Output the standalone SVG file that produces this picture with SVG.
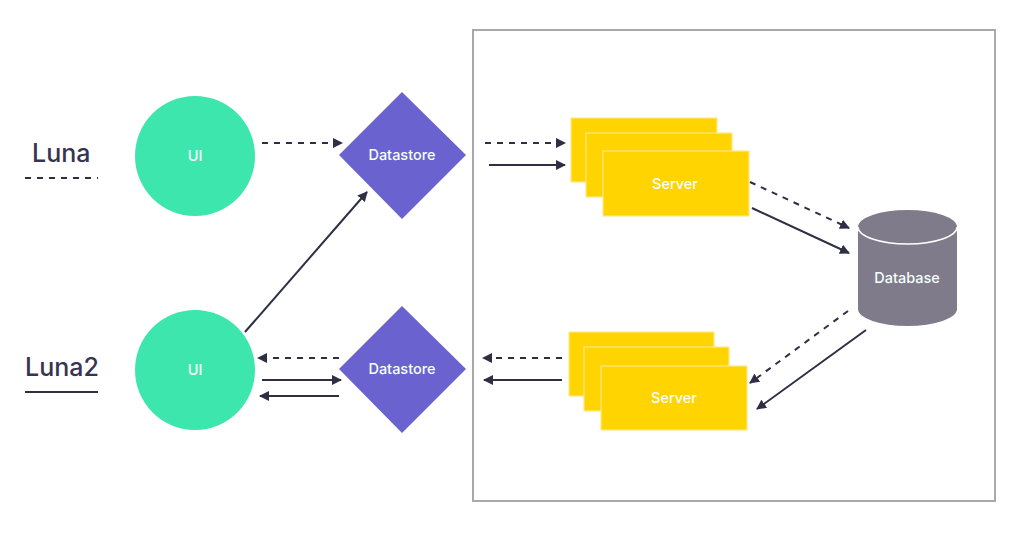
<svg xmlns="http://www.w3.org/2000/svg" width="1024" height="541" viewBox="0 0 1024 541">
<style>
.lbl{font-family:Inter,"Noto Sans","Liberation Sans",sans-serif;font-size:14.5px;font-weight:500;fill:#f4fffa;text-anchor:middle}
.leg{font-family:Inter,"Noto Sans","Liberation Sans",sans-serif;font-size:25px;font-weight:500;fill:#35354f}
.ui{fill:#3de6ad}
.ds{fill:#6a63cf}
.sv{fill:#ffd400;stroke:#ffe88a;stroke-width:1.2}
.c{stroke:#2e2e45;stroke-width:2;fill:none}
.d{stroke-dasharray:6 6}
</style>
<defs>
<marker id="ah" viewBox="0 0 10 10" refX="9" refY="5" markerWidth="10" markerHeight="10" markerUnits="userSpaceOnUse" orient="auto">
<path d="M0,0 L10,5 L0,10 Z" fill="#2e2e45"/>
</marker>
</defs>
<rect width="1024" height="541" fill="#ffffff"/>
<rect id="boundary" x="473" y="30" width="522" height="471" fill="none" stroke="#a9a9ad" stroke-width="2"/>
<g id="legend">
<text class="leg" x="32" y="162">Luna</text>
<line x1="25" y1="178" x2="98" y2="178" class="c d"/>
<text class="leg" x="25" y="376">Luna2</text>
<line x1="25" y1="392" x2="98" y2="392" class="c"/>
</g>
<g id="ui1"><circle class="ui" cx="195" cy="156" r="60"/><text class="lbl" x="195" y="161">UI</text></g>
<g id="ui2"><circle class="ui" cx="195" cy="370" r="60"/><text class="lbl" x="195" y="375">UI</text></g>
<g id="ds1"><path class="ds" d="M402,92 L466,155 L402,219 L339,155 Z"/><text class="lbl" x="402" y="160">Datastore</text></g>
<g id="ds2"><path class="ds" d="M402,306 L466,369 L402,433 L339,369 Z"/><text class="lbl" x="402" y="374">Datastore</text></g>
<g id="server1">
<rect class="sv" x="571" y="118" width="146" height="64"/>
<rect class="sv" x="586" y="133" width="146" height="64"/>
<rect class="sv" x="603" y="151" width="146" height="65"/>
<text class="lbl" x="675" y="189">Server</text>
</g>
<g id="server2">
<rect class="sv" x="569" y="332" width="145" height="64"/>
<rect class="sv" x="584" y="347" width="145" height="64"/>
<rect class="sv" x="601" y="366" width="146" height="64"/>
<text class="lbl" x="674" y="403">Server</text>
</g>
<g id="database">
<path d="M858,227 A49.5,17 0 0 1 957,227 L957,309 A49.5,17 0 0 1 858,309 Z" fill="#7f7b8a"/>
<path d="M858,227 A49.5,17 0 0 0 957,227" fill="none" stroke="#ffffff" stroke-width="1.5"/>
<text class="lbl" x="907" y="283">Database</text>
</g>
<g id="connectors">
<line x1="262" y1="143" x2="342" y2="143" class="c d" marker-end="url(#ah)"/>
<line x1="245" y1="332" x2="367" y2="192" class="c" marker-end="url(#ah)"/>
<line x1="339" y1="358" x2="258" y2="358" class="c d" marker-end="url(#ah)"/>
<line x1="262" y1="380" x2="341" y2="380" class="c" marker-end="url(#ah)"/>
<line x1="339" y1="396" x2="260" y2="396" class="c" marker-end="url(#ah)"/>
<line x1="485" y1="143" x2="565" y2="143" class="c d" marker-end="url(#ah)"/>
<line x1="489" y1="165" x2="565" y2="165" class="c" marker-end="url(#ah)"/>
<line x1="562" y1="358" x2="483" y2="358" class="c d" marker-end="url(#ah)"/>
<line x1="562" y1="380" x2="484" y2="380" class="c" marker-end="url(#ah)"/>
<line x1="750" y1="182" x2="849" y2="228" class="c d" marker-end="url(#ah)"/>
<line x1="752" y1="208" x2="849" y2="253" class="c" marker-end="url(#ah)"/>
<line x1="848" y1="311" x2="750" y2="383" class="c d" marker-end="url(#ah)"/>
<line x1="866" y1="330" x2="757" y2="409" class="c" marker-end="url(#ah)"/>
</g>
</svg>
